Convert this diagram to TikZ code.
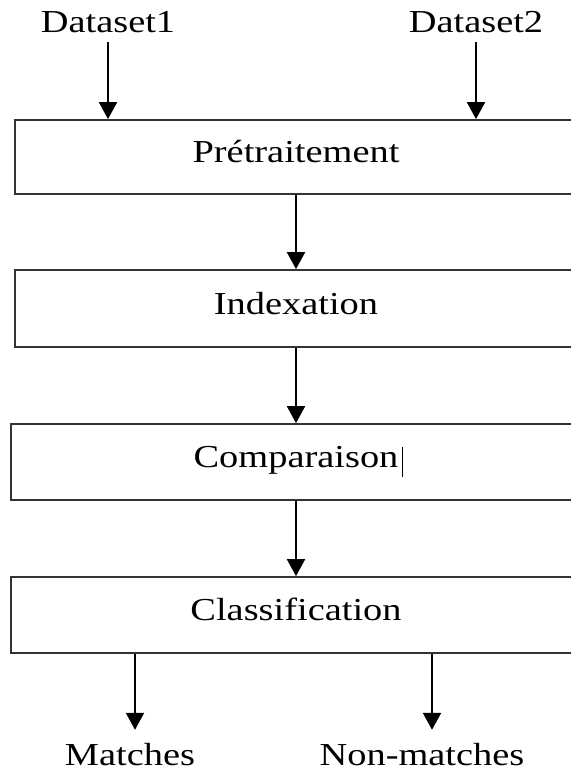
\documentclass[tikz,border=0pt]{standalone}
\usepackage{fontspec}
\setmainfont{Liberation Serif}
\usepackage{graphicx}
\usetikzlibrary{arrows.meta}
% slightly widened lettering
\newcommand\widetext[1]{\scalebox{1.2}[1]{#1}}
\begin{document}
\begin{tikzpicture}[x=1pt,y=-1pt,
  every node/.style={font=\fontsize{32}{38}\selectfont, inner sep=0pt},
  stage/.style={draw=black!80, line width=1.8pt, text height=22pt, text depth=11pt},
  lbl/.style={text height=22pt, text depth=0pt, anchor=base},
  flow/.style={-{Triangle[width=18pt,length=17pt]}, line width=2.2pt}]
\useasboundingbox (0,0) rectangle (570,773);

% processing stages (right side runs off the page)
\node[stage, minimum width=562pt, minimum height=74pt] (pre) at (296,157) {\widetext{Prétraitement}};
\node[stage, minimum width=562pt, minimum height=77pt] (idx) at (296,308.5) {\widetext{Indexation}};
\node[stage, minimum width=570pt, minimum height=76pt] (cmp) at (296,462) {\widetext{Comparaison}};
\node[stage, minimum width=570pt, minimum height=76pt] (cls) at (296,615) {\widetext{Classification}};

% inputs and outputs
\node[lbl] (d1) at (108,33) {\widetext{Dataset1}};
\node[lbl] (d2) at (476,33) {\widetext{Dataset2}};
\node[lbl] (m) at (130,765) {\widetext{Matches}};
\node[lbl] (nm) at (422,765) {\widetext{Non-matches}};

% text caret after "Comparaison"
\coordinate (caret) at (402,447);
\draw[line width=1pt] (caret) -- ++(0,30);

% connectors
\draw[flow, shorten <=9pt] (d1.south) -- (d1.south |- pre.north);
\draw[flow, shorten <=9pt] (d2.south) -- (d2.south |- pre.north);
\draw[flow] (pre.south) -- (idx.north);
\draw[flow] (idx.south) -- (cmp.north);
\draw[flow] (cmp.south) -- (cls.north);
\draw[flow, shorten >=13pt] ([xshift=5pt]m.north |- cls.south) -- ([xshift=5pt]m.north);
\draw[flow, shorten >=13pt] ([xshift=10pt]nm.north |- cls.south) -- ([xshift=10pt]nm.north);
\end{tikzpicture}
\end{document}
